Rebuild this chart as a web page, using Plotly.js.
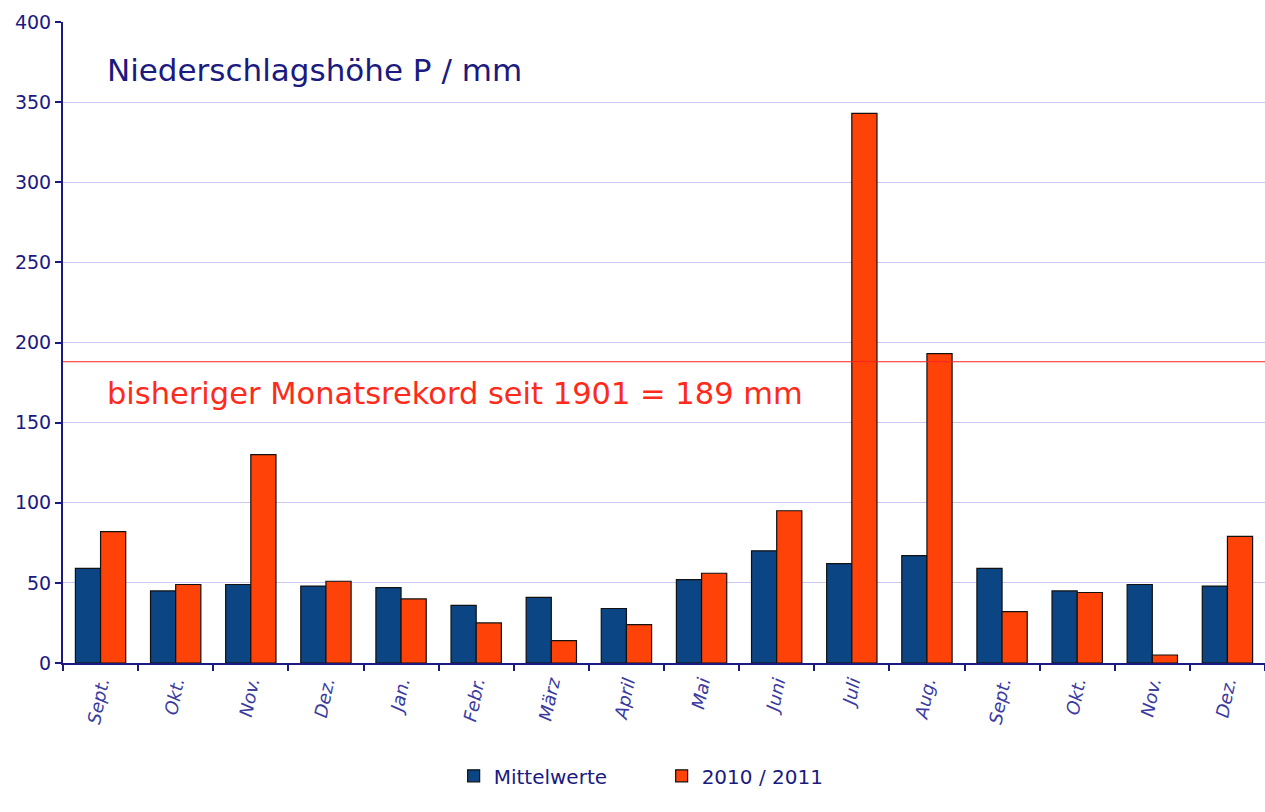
<!DOCTYPE html>
<html><head><meta charset="utf-8">
<script src="https://cdn.plot.ly/plotly-3.0.1.min.js"></script>
<style>html,body{margin:0;padding:0;background:#fff}#chart{width:1265px;height:812px}</style>
</head><body><div id="chart"></div>
<script>
const months = ["Sept.","Okt.","Nov.","Dez.","Jan.","Febr.","März","April","Mai","Juni","Juli","Aug.","Sept.","Okt.","Nov.","Dez."];
const mittelwerte = [59,45,49,48,47,36,41,34,52,70,62,67,59,45,49,48];
const jahr2010_2011 = [82,49,130,51,40,25,14,24,56,95,343,193,32,44,5,79];
const recordValue = 189;
const recordLine = 188;
const yTicks = [0,50,100,150,200,250,300,350,400];

const cats = months.map((m,i)=>"c"+i);
const navy = "#1a1a80";
const FONT = "DejaVu Sans, Verdana, sans-serif";

const traces = [
  {type:"bar", name:"Mittelwerte", x:cats, y:mittelwerte,
   marker:{color:"#0c4584", line:{color:"#111", width:1.2}}},
  {type:"bar", name:"2010 / 2011", x:cats, y:jahr2010_2011,
   marker:{color:"#ff4208", line:{color:"#111", width:1.2}}}
];

const layout = {
  width:1265, height:812,
  margin:{l:63, r:0, t:22, b:149},
  paper_bgcolor:"#fff", plot_bgcolor:"#fff",
  barmode:"group", bargap:0.33, bargroupgap:0,
  font:{family:FONT, color:navy},
  xaxis:{
    type:"category", automargin:false,
    tickmode:"array", tickvals:cats, ticktext:months.map(m=>"<i>"+m+"</i>"),
    tickangle:-78, tickson:"boundaries", ticks:"outside", ticklen:6, tickcolor:navy, tickwidth:2,
    showline:true, linecolor:navy, linewidth:2,
    showgrid:false, zeroline:false,
    tickfont:{size:18, color:"#3a3aa0", family:FONT}
  },
  yaxis:{
    automargin:false,
    range:[0,400], tickvals:yTicks, ticks:"outside", ticklen:6, tickcolor:navy, tickwidth:2,
    showline:true, linecolor:navy, linewidth:2,
    showgrid:true, gridcolor:"#c8c8f2", gridwidth:1, zeroline:false,
    tickfont:{size:19, color:navy, family:FONT}
  },
  shapes:[
    {type:"line", xref:"paper", x0:0, x1:1, yref:"y", y0:recordLine, y1:recordLine,
     line:{color:"#ff2020", width:1.2}}
  ],
  annotations:[
    {xref:"paper", yref:"y", x:0.035, y:370, xanchor:"left", yanchor:"middle", showarrow:false,
     text:"Niederschlagshöhe P / mm", font:{size:31, color:navy, family:FONT}},
    {xref:"paper", yref:"y", x:0.035, y:168, xanchor:"left", yanchor:"middle", showarrow:false,
     text:"bisheriger Monatsrekord seit "+1901+" = "+recordValue+" mm", font:{size:30.5, color:"#ff2a1a", family:FONT}}
  ],
  showlegend:true,
  legend:{orientation:"h", x:0.325, xanchor:"left", y:-0.176, yanchor:"middle",
    font:{size:20, color:navy, family:FONT}, itemwidth:30, entrywidth:163, entrywidthmode:"pixels",
    traceorder:"normal"}
};
Plotly.newPlot("chart", traces, layout, {displayModeBar:false, staticPlot:true});
</script></body></html>
